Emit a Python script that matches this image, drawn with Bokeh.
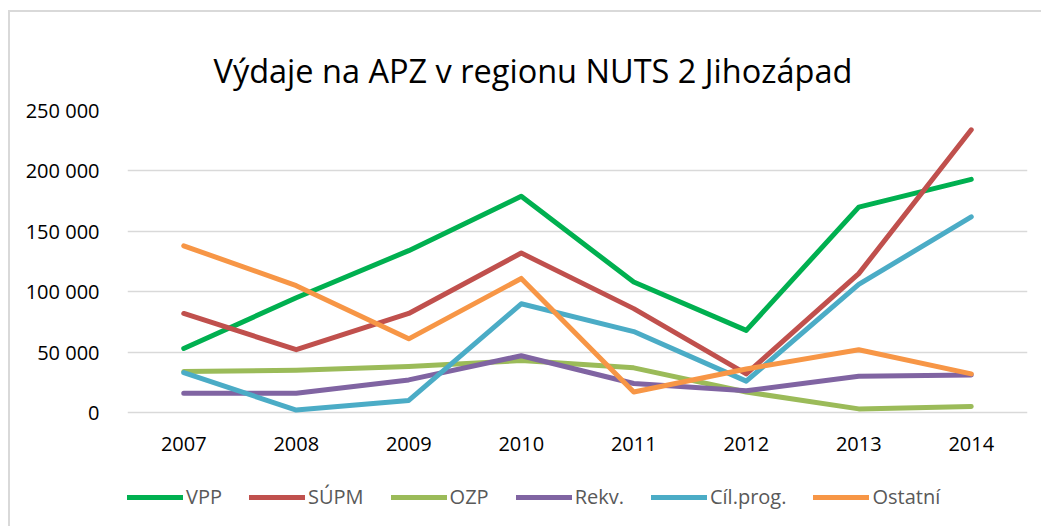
from bokeh.plotting import figure
from bokeh.models import FixedTicker, Legend, LegendItem
from bokeh.embed import file_html
from bokeh.resources import INLINE

years = ["2007", "2008", "2009", "2010", "2011", "2012", "2013", "2014"]
vpp = [53000, 95000, 134000, 179000, 108000, 68000, 170000, 193000]
supm = [82000, 52000, 82000, 132000, 86000, 32000, 115000, 234000]
ozp = [34000, 35000, 38000, 43000, 37000, 17000, 3000, 5000]
rekv = [16000, 16000, 27000, 47000, 24000, 18000, 30000, 31000]
cil = [33000, 2000, 10000, 90000, 67000, 26000, 106000, 162000]
ostatni = [138000, 105000, 61000, 111000, 17000, 36000, 52000, 32000]

series_names = ["VPP", "SÚPM", "OZP", "Rekv.", "Cíl.prog.", "Ostatní"]
series_values = [vpp, supm, ozp, rekv, cil, ostatni]
colors = ["#00B050", "#C0504D", "#9BBB59", "#8064A2", "#4BACC6", "#F79646"]

y_ticks = [0, 50000, 100000, 150000, 200000, 250000]
y_labels = ["0", "50 000", "100 000", "150 000", "200 000", "250 000"]

title_text = "Výdaje na APZ v regionu NUTS 2 Jihozápad"
FONT = "Open Sans"

# frame runs to the bottom of the figure; the value axis shows 0..250 000 and
# the space below 0 holds the category labels and the legend
y_bottom = -96000
y_top = 250000

p = figure(x_range=years, y_range=(y_bottom, y_top), width=1033, height=516,
           output_backend="svg", toolbar_location=None,
           min_border_left=117, min_border_right=16,
           min_border_top=98, min_border_bottom=0)
p.styles = {"border-left": "2px solid #d9d9d9", "border-top": "2px solid #d9d9d9",
            "margin-left": "8px", "margin-top": "10px"}

p.title.text = title_text
p.title.text_font = FONT
p.title.text_font_size = "32.5px"
p.title.text_font_style = "normal"
p.title.text_color = "#000000"
p.title.align = "left"
p.title.offset = 86
p.title.standoff = 36

p.outline_line_color = None
p.background_fill_color = "white"
p.border_fill_color = "white"
p.xgrid.grid_line_color = None
p.ygrid.grid_line_color = "#d9d9d9"
p.ygrid.grid_line_width = 1.5

p.xaxis.fixed_location = 0
p.yaxis.ticker = FixedTicker(ticks=y_ticks)
p.yaxis.major_label_overrides = dict(zip(y_ticks, y_labels))
for ax in (p.xaxis[0], p.yaxis[0]):
    ax.axis_line_color = None
    ax.major_tick_line_color = None
    ax.minor_tick_line_color = None
    ax.major_label_text_font = FONT
    ax.major_label_text_font_size = "20px"
    ax.major_label_text_color = "#000000"
p.yaxis.major_label_standoff = 22
p.xaxis.major_label_standoff = 18

items = []
for name, vals, c in zip(series_names, series_values, colors):
    r = p.line(years, vals, line_color=c, line_width=5, line_cap="round", line_join="round")
    items.append(LegendItem(label=name, renderers=[r]))

legend = Legend(items=items, orientation="horizontal", location=(0, 18),
                glyph_width=56, glyph_height=12, label_standoff=3, spacing=27,
                padding=0, margin=0, border_line_color=None, background_fill_alpha=0,
                label_text_font=FONT, label_text_font_size="20px", label_text_color="#595959")
p.add_layout(legend, "center")

open("out.html", "w").write(file_html(p, INLINE))
